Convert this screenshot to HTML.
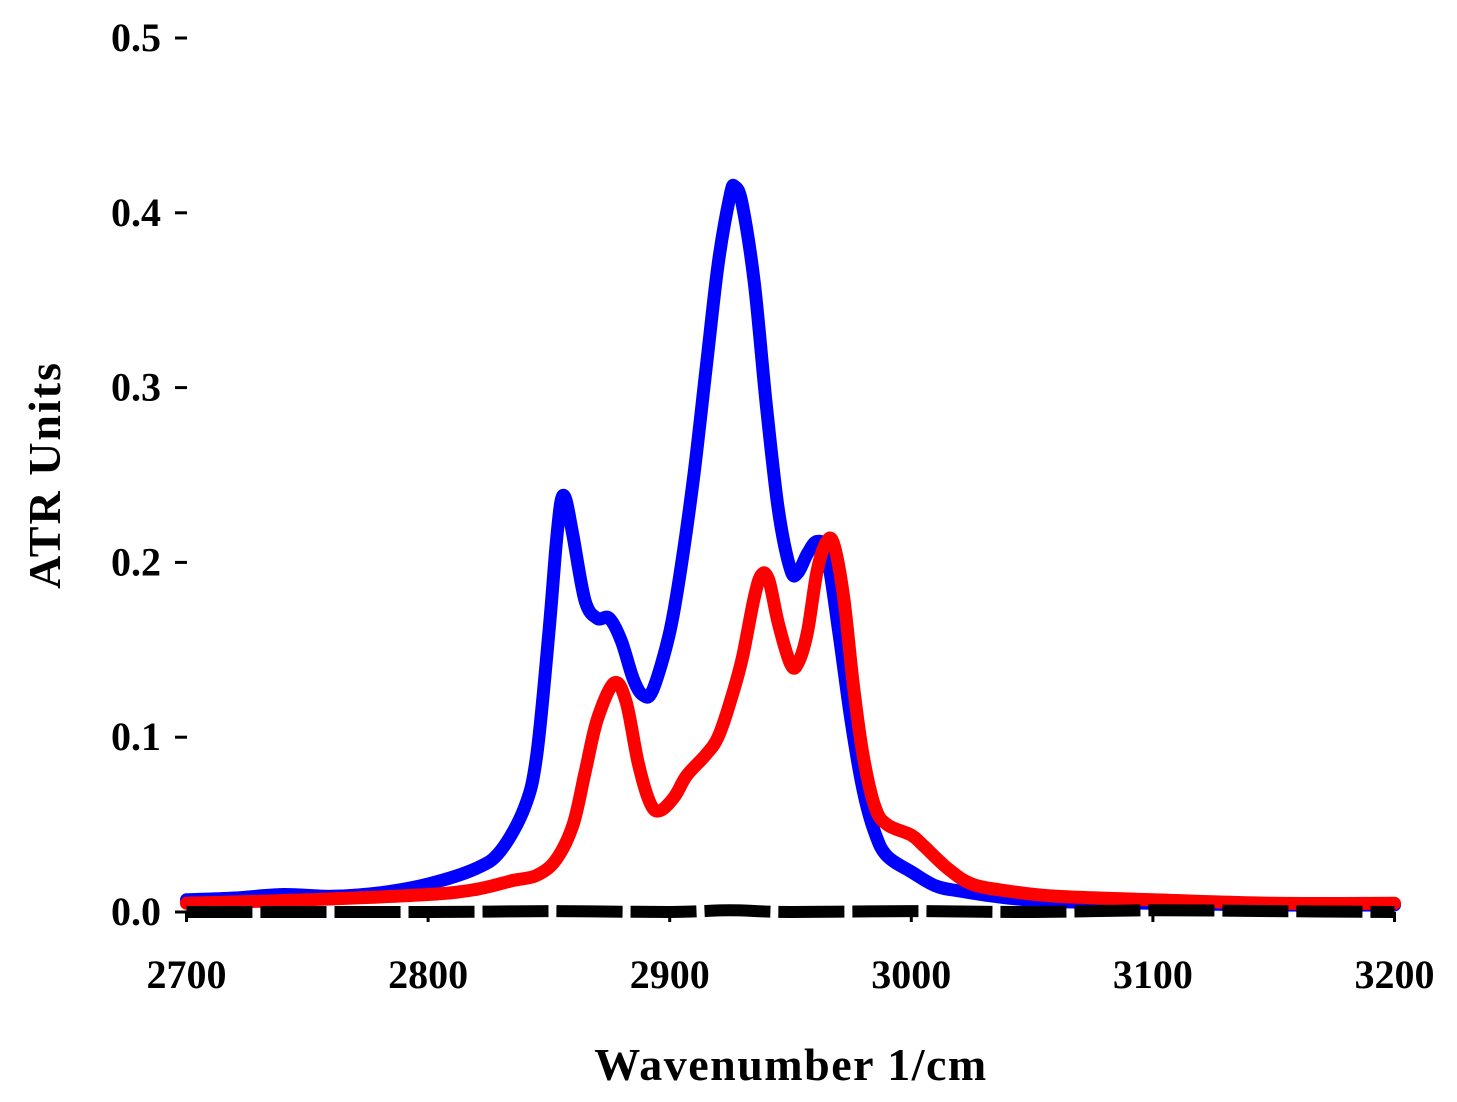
<!DOCTYPE html>
<html><head><meta charset="utf-8"><style>
body{margin:0;background:#fff}
svg{display:block}
text{font-family:"Liberation Serif",serif;font-weight:bold;fill:#000}
</style></head><body>
<svg id="chart" width="1457" height="1102" viewBox="0 0 1457 1102">
<g id="axes"></g>
<g id="series"></g>
<text x="791" y="1080" text-anchor="middle" font-size="46" letter-spacing="1.5">Wavenumber 1/cm</text>
<text transform="translate(60,475) rotate(-90)" text-anchor="middle" font-size="46" letter-spacing="2">ATR Units</text>
</svg>
<script>
const xTicks=[2700,2800,2900,3000,3100,3200];
const yTicks=[0,0.1,0.2,0.3,0.4,0.5];
const yTickLabels=["0.0","0.1","0.2","0.3","0.4","0.5"];
const blueX=[2700,2720,2740,2760,2780,2800,2820,2830,2840,2845,2850,2853,2855,2857,2860,2865,2870,2875,2880,2885,2889,2893,2900,2905,2910,2915,2920,2925,2927,2930,2935,2940,2945,2950,2953,2957,2961,2965,2970,2975,2980,2985,2990,3000,3010,3020,3040,3060,3100,3150,3200];
const blueY=[.007,.008,.010,.009,.011,.016,.025,.035,.06,.09,.16,.21,.235,.236,.215,.178,.168,.168,.155,.133,.124,.127,.16,.2,.25,.31,.37,.41,.415,.405,.36,.29,.23,.196,.194,.205,.212,.205,.16,.11,.07,.045,.032,.023,.015,.012,.008,.006,.005,.004,.004];
const redX=[2700,2750,2800,2820,2835,2845,2853,2860,2865,2870,2877,2882,2887,2892,2896,2902,2907,2915,2920,2925,2930,2935,2938,2941,2945,2950,2953,2957,2961,2965,2968,2972,2976,2980,2985,2990,3000,3005,3015,3025,3040,3060,3100,3150,3200];
const redY=[.005,.007,.01,.013,.018,.021,.03,.05,.08,.11,.131,.12,.085,.062,.058,.066,.078,.09,.1,.12,.145,.18,.193,.19,.165,.142,.142,.16,.195,.212,.21,.18,.13,.09,.06,.05,.044,.038,.025,.016,.012,.009,.007,.005,.005];
const blackX=[2700,2800,2850,2900,2925,2950,3000,3050,3100,3150,3200];
const blackY=[0,0,.0005,0,.001,0,.0005,0,.001,.0005,0];
const NS='http://www.w3.org/2000/svg';
const xs=v=>186.5+(v-2700)*2.416;
const ys=v=>912-v*1748;
const axes=document.getElementById('axes');
const ser=document.getElementById('series');
function mk(t,a,p){const e=document.createElementNS(NS,t);for(const k in a)e.setAttribute(k,a[k]);p.appendChild(e);return e;}
xTicks.forEach(t=>{
  const l=mk('line',{x1:xs(t),x2:xs(t),y1:912,y2:922,stroke:'#000','stroke-width':3},axes);
  
  
  const tx=mk('text',{x:xs(t),y:988,'text-anchor':'middle','font-size':40},axes);
  tx.textContent=t;
  
  
});
yTicks.forEach((t,i)=>{
  const l=mk('line',{x1:175,x2:187,y1:ys(t),y2:ys(t),stroke:'#000','stroke-width':3},axes);
  
  
  const tx=mk('text',{x:161,y:ys(t)+13,'text-anchor':'end','font-size':40},axes);
  tx.textContent=yTickLabels[i];
  
  
});
function path(X,Y){
  const P=X.map((x,i)=>[xs(x),ys(Y[i])]);
  let d='M'+P[0][0].toFixed(1)+','+P[0][1].toFixed(1);
  for(let i=0;i<P.length-1;i++){
    const p0=P[Math.max(0,i-1)],p1=P[i],p2=P[i+1],p3=P[Math.min(P.length-1,i+2)];
    const c1=[p1[0]+(p2[0]-p0[0])/6,p1[1]+(p2[1]-p0[1])/6];
    const c2=[p2[0]-(p3[0]-p1[0])/6,p2[1]-(p3[1]-p1[1])/6];
    d+='C'+c1.map(v=>v.toFixed(1)).join(',')+' '+c2.map(v=>v.toFixed(1)).join(',')+' '+p2[0].toFixed(1)+','+p2[1].toFixed(1);
  }
  return d;
}
const b=mk('path',{d:path(blueX,blueY),fill:'none',stroke:'#0000ff','stroke-width':13,'stroke-linejoin':'round','stroke-linecap':'round'},ser);


const r=mk('path',{d:path(redX,redY),fill:'none',stroke:'#ff0000','stroke-width':13,'stroke-linejoin':'round','stroke-linecap':'round'},ser);


const k=mk('path',{d:path(blackX,blackY),fill:'none',stroke:'#000','stroke-width':12,'stroke-dasharray':'66 8'},ser);


</script>
</body></html>
